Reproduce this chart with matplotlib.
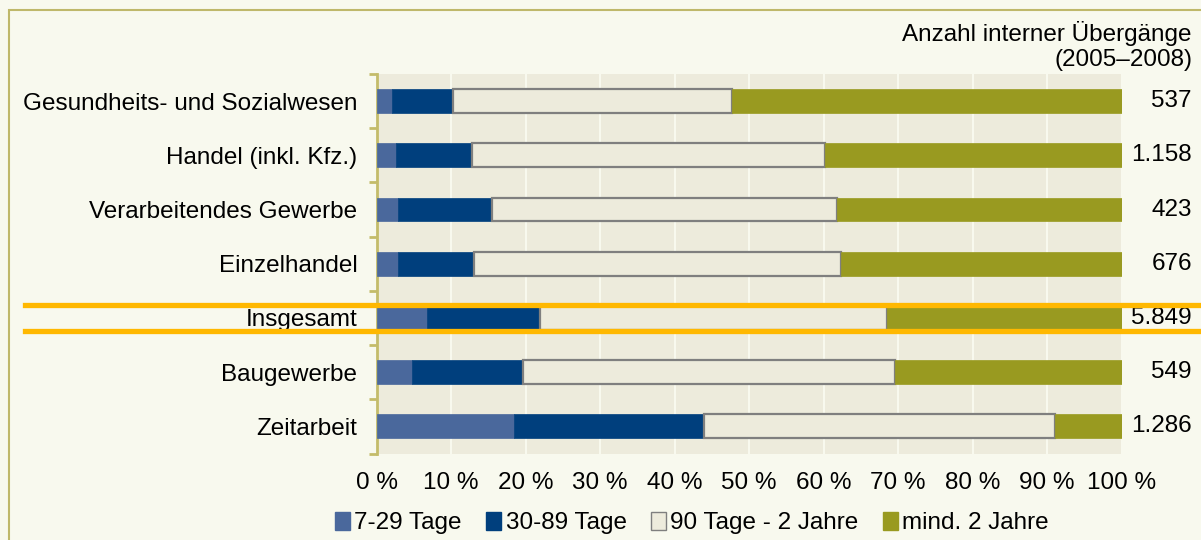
import matplotlib
matplotlib.use("Agg")
import matplotlib.pyplot as plt
import matplotlib.transforms as mtransforms
from matplotlib.patches import Rectangle, Patch
from matplotlib.lines import Line2D
import numpy as np

categories = [
    "Gesundheits- und Sozialwesen",
    "Handel (inkl. Kfz.)",
    "Verarbeitendes Gewerbe",
    "Einzelhandel",
    "Insgesamt",
    "Baugewerbe",
    "Zeitarbeit",
]
tage_7_29 = [2.0, 2.6, 2.8, 2.8, 6.8, 4.7, 18.4]
tage_30_89 = [8.2, 10.2, 12.7, 10.3, 15.1, 14.9, 25.5]
tage_90_2j = [37.5, 47.4, 46.3, 49.2, 46.6, 50.0, 47.1]
mind_2j = [52.3, 39.8, 38.2, 37.7, 31.5, 30.4, 9.0]
anzahl = ["537", "1.158", "423", "676", "5.849", "549", "1.286"]
series_labels = ["7-29 Tage", "30-89 Tage", "90 Tage - 2 Jahre", "mind. 2 Jahre"]

plt.rcParams["font.family"] = ["Liberation Sans", "DejaVu Sans"]
FS = 17.5

W, H = 1201, 540
fig = plt.figure(figsize=(W / 100, H / 100), dpi=100, facecolor="#F8F9EE")
ax = fig.add_axes([376.7 / W, 1 - 453.5 / H, 745 / W, (453.5 - 74) / H])
ax.set_facecolor("#EDEBDC")

# outer frame
fig.add_artist(Rectangle((9 / W, -0.05), 1.1, 1 - 10 / H + 0.05, transform=fig.transFigure,
                         fill=False, edgecolor="#BFB86A", linewidth=1.5))

y = np.arange(len(categories))
h = 0.44
left = np.zeros(len(categories))
colors = ["#4A689C", "#003F7D", "#EDEBDC", "#999A20"]
for vals, col, lab in zip([tage_7_29, tage_30_89, tage_90_2j, mind_2j], colors, series_labels):
    if lab == "90 Tage - 2 Jahre":
        ax.barh(y, vals, left=left, height=h, color=col, edgecolor="#7F7F7F", linewidth=1.6, zorder=3)
    else:
        ax.barh(y, vals, left=left, height=h, color=col, edgecolor=col, linewidth=0.5, zorder=3)
    left += np.array(vals)

ax.set_xlim(0, 100)
ax.set_ylim(len(categories) - 0.5, -0.5)
ax.set_xticks(np.arange(0, 101, 10))
ax.set_xticklabels([f"{v} %" for v in range(0, 101, 10)], fontsize=FS)
ax.grid(axis="x", color="#F8F9EE", linewidth=1.5, zorder=1)
ax.set_axisbelow(True)

ax.set_yticks(y)
ax.set_yticklabels(categories, fontsize=FS)
ax.set_yticks(np.arange(-0.5, len(categories), 1), minor=True)
ax.tick_params(axis="y", which="major", length=0, pad=14)
ax.tick_params(axis="y", which="minor", length=6, width=2, color="#C4BC6A")
ax.tick_params(axis="x", length=0, pad=13)
for s in ["top", "right", "bottom"]:
    ax.spines[s].set_visible(False)
ax.spines["left"].set_color("#C4BC6A")
ax.spines["left"].set_linewidth(2)

# counts on the right
tr = mtransforms.blended_transform_factory(fig.transFigure, ax.transData)
for yi, n in zip(y, anzahl):
    fig.text(1192 / W, yi, n, transform=tr, ha="right", va="center", fontsize=FS)
fig.text(1192 / W, 1 - 21 / H, "Anzahl interner Übergänge\n(2005–2008)", ha="right", va="top",
         fontsize=FS, linespacing=1.2)

# highlight lines around "Insgesamt"
idx = categories.index("Insgesamt")
for dy in (-0.235, 0.235):
    fig.add_artist(Line2D([25 / W, 1.0], [idx + dy, idx + dy], transform=tr,
                          color="#FFB800", linewidth=3.8, zorder=5))

handles = [Patch(facecolor=c, edgecolor=("#7F7F7F" if c == "#EDEBDC" else c)) for c in colors]
fig.legend(handles, series_labels, loc="center", bbox_to_anchor=(692 / W, 1 - 523 / H),
           ncol=4, frameon=False, fontsize=FS, handlelength=0.6, handleheight=0.8,
           handletextpad=0.2, columnspacing=1.0)

fig.savefig("out.png", dpi=100, facecolor=fig.get_facecolor())
